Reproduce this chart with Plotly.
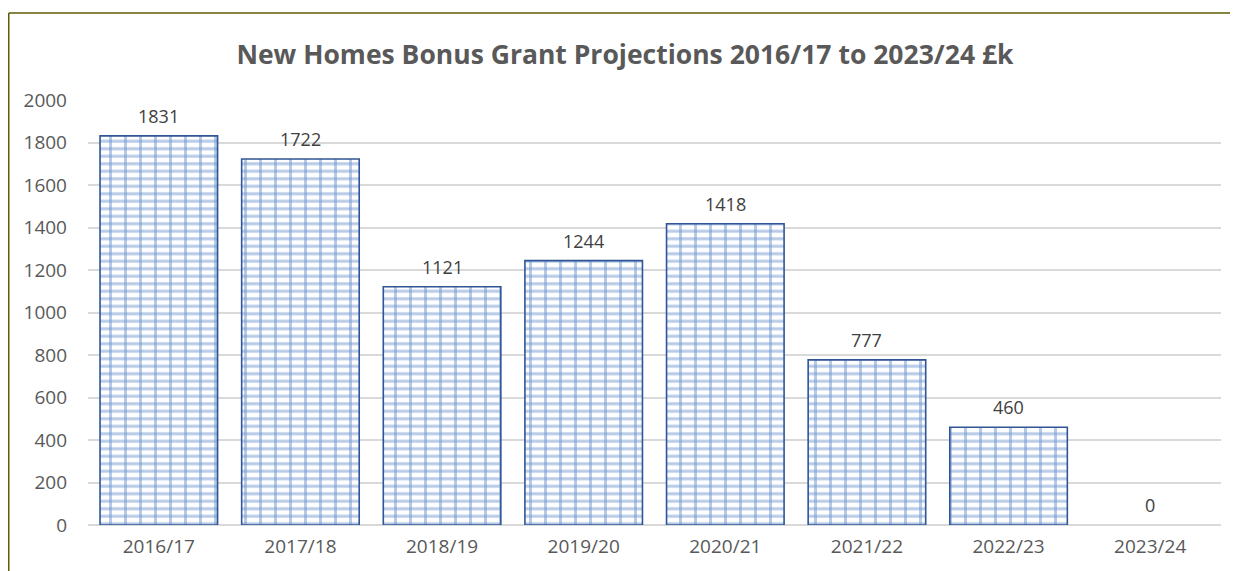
import plotly.graph_objects as go

categories = ["2016/17", "2017/18", "2018/19", "2019/20", "2020/21", "2021/22", "2022/23", "2023/24"]
values = [1831, 1722, 1121, 1244, 1418, 777, 460, 0]
y_ticks = [0, 200, 400, 600, 800, 1000, 1200, 1400, 1600, 1800, 2000]
title_text = "New Homes Bonus Grant Projections 2016/17 to 2023/24 £k"

FONT = "Open Sans"
MORTAR = "#6f96d0"

W, H = 1230, 563
L, R, T, B = 80, 17, 92, 46
PW, PH = W - L - R, H - T - B

outline_w = [1.6 if v > 0 else 0 for v in values]

fig = go.Figure()
# brick pattern: horizontal mortar lines
fig.add_trace(go.Bar(
    x=categories, y=values,
    marker=dict(
        color="white", line=dict(color="#2f5597", width=0),
        pattern=dict(shape="-", fgcolor=MORTAR, bgcolor="white", size=7.5, solidity=0.4),
    ),
    hoverinfo="skip",
))
# vertical joints + outline
fig.add_trace(go.Bar(
    x=categories, y=values,
    marker=dict(
        color="rgba(0,0,0,0)", line=dict(color="#2f5597", width=outline_w),
        pattern=dict(shape="|", fgcolor=MORTAR, bgcolor="rgba(0,0,0,0)", size=15, solidity=0.2),
    ),
    hoverinfo="skip",
))

for c, v in zip(categories, values):
    fig.add_annotation(
        x=c, y=v, text=str(v), showarrow=False, yanchor="bottom", yshift=6,
        font=dict(family=FONT, size=18, color="#404040"),
    )

fig.update_layout(
    width=W, height=H,
    margin=dict(l=L, r=R, t=T, b=B),
    paper_bgcolor="white", plot_bgcolor="white",
    barmode="overlay",
    bargap=0.17,
    showlegend=False,
    title=dict(
        text=title_text, x=0.5016, xanchor="center", y=1 - 47 / H, yanchor="middle",
        font=dict(family=FONT, size=26.5, color="#595959", weight="bold"),
    ),
    xaxis=dict(
        showgrid=False, showline=False, ticks="",
        tickfont=dict(family=FONT, size=19, color="#595959"), ticklabelstandoff=8,
    ),
    yaxis=dict(
        range=[0, 2000], tickvals=y_ticks, showgrid=True, gridcolor="#d9d9d9", gridwidth=1.5,
        zeroline=True, zerolinecolor="#d9d9d9", zerolinewidth=1.5, showline=False, ticks="",
        tickfont=dict(family=FONT, size=19, color="#595959"), ticklabelstandoff=20,
    ),
)

# outer chart border (top and left edges visible)
fig.add_shape(type="line", xref="paper", yref="paper",
              x0=(0.75 - L) / PW, x1=(W - L) / PW,
              y0=(H - B - 5) / PH, y1=(H - B - 5) / PH,
              line=dict(color="#5c5c00", width=1.5))
fig.add_shape(type="line", xref="paper", yref="paper",
              x0=(0.75 - L) / PW, x1=(0.75 - L) / PW,
              y0=(H - B - 5) / PH, y1=-B / PH,
              line=dict(color="#5c5c00", width=1.5))

fig.write_html("out.html")
